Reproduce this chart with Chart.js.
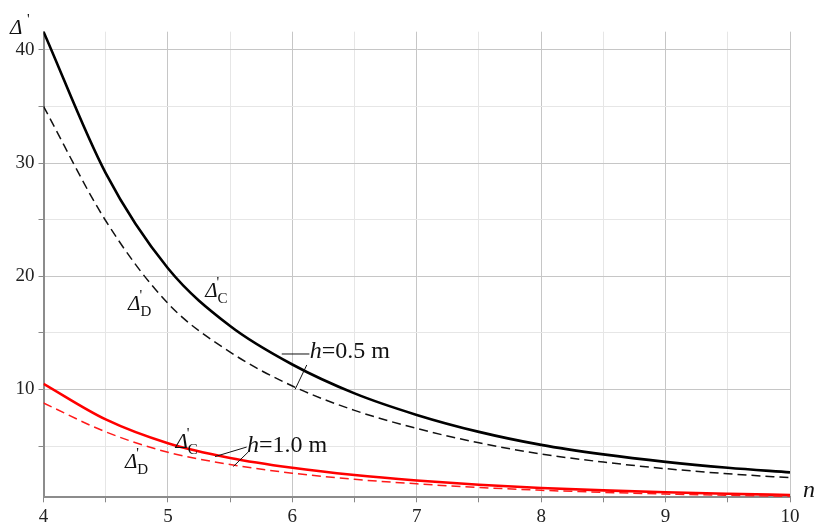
<!DOCTYPE html>
<html>
<head>
<meta charset="utf-8">
<script src="https://cdn.jsdelivr.net/npm/chart.js@4.4.1/dist/chart.umd.min.js"></script>
<style>
  html, body { margin: 0; padding: 0; background: #fff; }
  #wrap { width: 815px; height: 527px; position: relative; }
</style>
</head>
<body>
<div id="wrap"><canvas id="c"></canvas></div>
<script>
// n values along the x axis
const nValues = [4, 4.5, 5, 5.5, 6, 6.5, 7, 7.5, 8, 8.5, 9, 9.5, 10];

// h = 0.5 m
const deltaC05 = [41.6, 29.1, 20.7, 15.6, 12.2, 9.65, 7.75, 6.25, 5.1, 4.26, 3.6, 3.08, 2.67];
const deltaD05 = [35.0, 24.9, 17.6, 13.3, 10.3, 8.15, 6.55, 5.28, 4.3, 3.58, 3.0, 2.55, 2.2];

// h = 1.0 m
const deltaC10 = [10.5, 7.35, 5.25, 3.95, 3.08, 2.44, 1.96, 1.58, 1.29, 1.08, 0.91, 0.78, 0.67];
const deltaD10 = [8.8, 6.25, 4.45, 3.37, 2.6, 2.06, 1.66, 1.34, 1.09, 0.91, 0.76, 0.65, 0.55];

const xTicks = [4, 4.5, 5, 5.5, 6, 6.5, 7, 7.5, 8, 8.5, 9, 9.5, 10];
const yTicks = [5, 10, 15, 20, 25, 30, 35, 40];

const SERIF = '"Liberation Serif", "DejaVu Serif", serif';

function pts(arr) {
  return nValues.map((n, i) => ({ x: n, y: arr[i] }));
}

function line(data, color, width, dash) {
  return {
    data: pts(data),
    borderColor: color,
    borderWidth: width,
    borderDash: dash || [],
    pointRadius: 0,
    fill: false,
    cubicInterpolationMode: "monotone",
  };
}

// Δ' with subscript, like Maple prints it
function deltaLabel(ctx, X, Y, sub) {
  ctx.font = "italic 21px " + SERIF;
  ctx.fillText("Δ", X, Y);
  const w = ctx.measureText("Δ").width;
  ctx.font = "15px " + SERIF;
  ctx.fillText("'", X + w - 1, Y - 10);
  if (sub) ctx.fillText(sub, X + w, Y + 6);
}

function hLabel(ctx, X, Y, txt) {
  ctx.font = "italic 24px " + SERIF;
  ctx.fillText("h", X, Y);
  const w = ctx.measureText("h").width;
  ctx.font = "24px " + SERIF;
  ctx.fillText(txt, X + w, Y);
}

const annot = {
  id: "annot",
  afterDatasetsDraw(chart) {
    const { ctx } = chart;
    const sx = chart.scales.x, sy = chart.scales.y;
    const px = (n) => sx.getPixelForValue(n);
    const py = (v) => sy.getPixelForValue(v);
    ctx.save();
    ctx.fillStyle = "#111";
    ctx.textBaseline = "alphabetic";
    ctx.textAlign = "left";

    deltaLabel(ctx, px(5.3), py(18.15), "C");
    deltaLabel(ctx, px(4.68), py(17.0), "D");
    deltaLabel(ctx, px(5.06), py(4.82), "C");
    deltaLabel(ctx, px(4.655), py(3.05), "D");

    hLabel(ctx, px(6.14), py(12.8), "=0.5 m");
    hLabel(ctx, px(5.636), py(4.51), "=1.0 m");

    // leader lines
    ctx.strokeStyle = "#111";
    ctx.lineWidth = 1;
    const seg = (a, b, c, d) => {
      ctx.beginPath();
      ctx.moveTo(px(a), py(b));
      ctx.lineTo(px(c), py(d));
      ctx.stroke();
    };
    seg(5.915, 13.13, 6.137, 13.13);
    seg(6.116, 12.16, 6.022, 10.0);
    seg(5.379, 4.07, 5.633, 4.91);
    seg(5.526, 3.19, 5.648, 4.5);

    // axis titles
    const a = chart.chartArea;
    ctx.font = "italic 21px " + SERIF;
    ctx.fillText("Δ", 10, 34);
    ctx.font = "15px " + SERIF;
    ctx.fillText("'", 27, 24);
    ctx.font = "italic 24px " + SERIF;
    ctx.fillText("n", a.right + 13, a.bottom);
    ctx.restore();
  },
};

new Chart(document.getElementById("c"), {
  type: "line",
  data: {
    datasets: [
      line(deltaD05, "#111", 1.5, [9, 5]),
      line(deltaC05, "#000", 2.6),
      line(deltaD10, "#ff1a1a", 1.5, [9, 5]),
      line(deltaC10, "#ff0000", 2.6),
    ],
  },
  options: {
    responsive: true,
    maintainAspectRatio: false,
    animation: false,
    events: [],
    layout: { padding: { top: 31.7, right: 25, left: 0, bottom: 0 } },
    plugins: { legend: { display: false }, tooltip: { enabled: false } },
    elements: { line: { borderCapStyle: "butt" } },
    scales: {
      x: {
        type: "linear",
        min: 4,
        max: 10,
        afterBuildTicks: (s) => { s.ticks = xTicks.map((v) => ({ value: v })); },
        afterFit: (s) => { s.height = 29.7; },
        ticks: {
          autoSkip: false,
          maxRotation: 0,
          padding: 3,
          color: "#222",
          font: { family: SERIF, size: 19 },
          callback: (v) => (Number.isInteger(v) ? String(v) : ""),
        },
        grid: {
          color: (c) => (Number.isInteger(c.tick.value) ? "#c6c6c6" : "#e6e6e6"),
          tickColor: "#888",
          tickLength: 5,
          lineWidth: 1,
        },
        border: { color: "#8c8c8c", width: 2 },
      },
      y: {
        type: "linear",
        min: 0.47,
        max: 41.6,
        afterBuildTicks: (s) => { s.ticks = yTicks.map((v) => ({ value: v })); },
        afterFit: (s) => { s.width = 43.5; },
        ticks: {
          autoSkip: false,
          padding: 4,
          color: "#222",
          font: { family: SERIF, size: 19 },
          callback: (v) => (v % 10 === 0 ? String(v) : ""),
        },
        grid: {
          color: (c) => (c.tick.value % 10 === 0 ? "#c6c6c6" : "#e6e6e6"),
          tickColor: "#888",
          tickLength: 5,
          lineWidth: 1,
        },
        border: { color: "#8c8c8c", width: 2 },
      },
    },
  },
  plugins: [annot],
});
</script>
</body>
</html>
